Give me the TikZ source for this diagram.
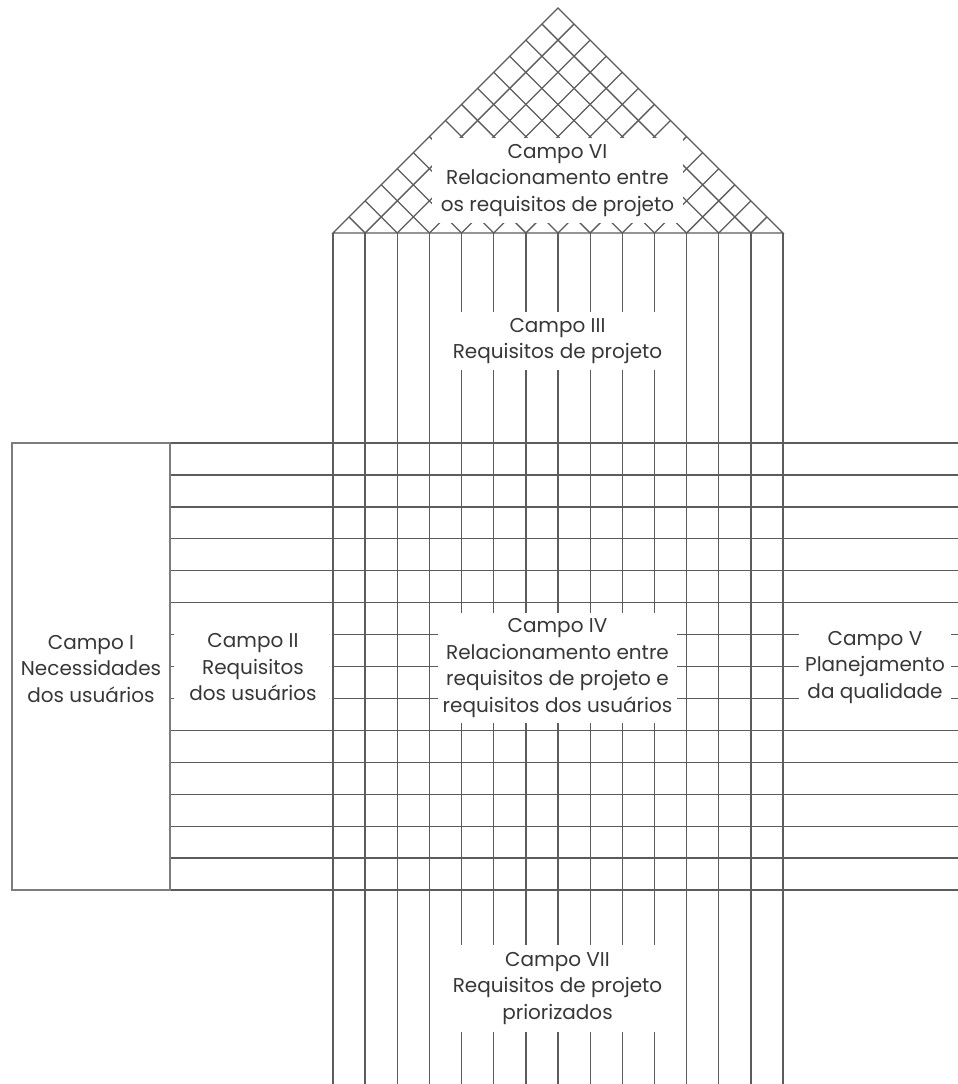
\documentclass[tikz,border=0pt]{standalone}
\usepackage{fontspec}
\setmainfont{Poppins}
\definecolor{gridline}{RGB}{92,92,92}
\definecolor{framegray}{RGB}{125,125,125}
\definecolor{labelgray}{RGB}{55,55,55}
\begin{document}
\begin{tikzpicture}[x=1pt,y=-1pt,
  grid/.style={draw=gridline,line width=1.3pt},
  frame/.style={draw=framegray,line width=1.8pt},
  field/.style={fill=white,inner sep=0pt,align=center,text=labelgray,
    font=\fontsize{20}{26.5}\selectfont},
  plain/.style={inner sep=0pt,align=center,text=labelgray,
    font=\fontsize{20}{26.5}\selectfont},
]
\useasboundingbox (0,0) rectangle (958,1084);

% columns of the design requirements
\foreach \i in {0,...,14} {
  \pgfmathsetmacro\xx{333+\i*450/14}
  \draw[grid] (\xx,233) -- (\xx,1084);
}
% rows of the customer requirements
\foreach \j in {0,...,14} {
  \pgfmathsetmacro\yy{443+\j*447/14}
  \draw[grid] (170,\yy) -- (958,\yy);
}
% customer needs frame
\draw[frame] (12,443) rectangle (170,890);

% roof: correlation lattice
\draw[grid] (333,233) -- (558,8) -- (783,233) -- cycle;
\foreach \i in {1,...,13} {
  \pgfmathsetmacro\xx{333+\i*450/14}
  \draw[grid] (\xx,233) -- ({(783+\xx)/2},{233-(783-\xx)/2});
  \draw[grid] (\xx,233) -- ({(333+\xx)/2},{233-(\xx-333)/2});
}

% field labels
\node[plain] (c1) at (91,669) {Campo I\\Necessidades\\dos usuários};
\node[field,minimum width=158pt,minimum height=115pt] (c2) at (253,667.5)
  {Campo II\\Requisitos\\dos usuários};
\node[field,minimum width=239pt,minimum height=58pt] (c3) at (557.5,341)
  {Campo III\\Requisitos de projeto};
\node[field,minimum width=239pt,minimum height=110pt] (c4) at (557.5,668)
  {Campo IV\\Relacionamento entre\\requisitos de projeto e\\requisitos dos usuários};
\node[field,minimum width=152pt,minimum height=115pt] (c5) at (875,667.5)
  {Campo V\\Planejamento\\da qualidade};
\node[field,minimum width=251pt,minimum height=85pt] (c6) at (557.5,180.5)
  {Campo VI\\Relacionamento entre\\os requisitos de projeto};
\node[field,minimum width=239pt,minimum height=87pt] (c7) at (557.5,988.5)
  {Campo VII\\Requisitos de projeto\\priorizados};
\end{tikzpicture}
\end{document}
